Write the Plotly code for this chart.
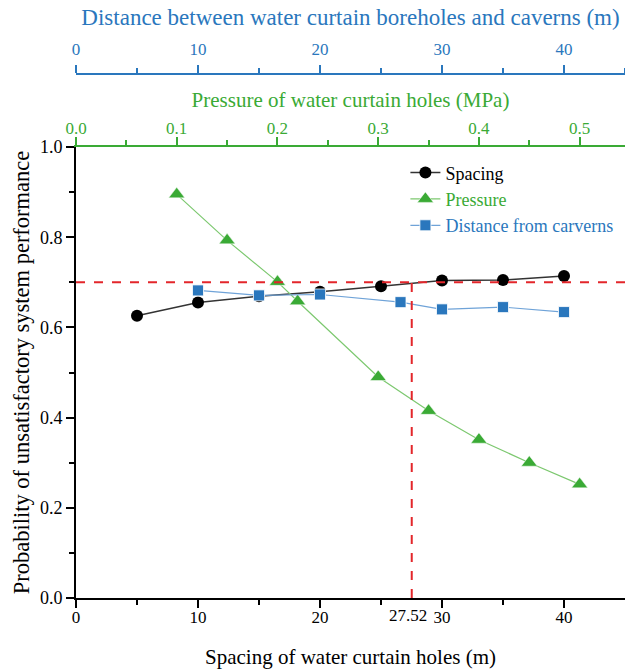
import plotly.graph_objects as go

# ---- data ----
spacing = [5, 10, 15, 20, 25, 30, 35, 40]
prob_spacing = [0.626, 0.655, 0.669, 0.679, 0.691, 0.704, 0.705, 0.714]

pressure = [0.10, 0.15, 0.20, 0.22, 0.30, 0.35, 0.40, 0.45, 0.50]
prob_pressure = [0.895, 0.793, 0.701, 0.658, 0.490, 0.415, 0.351, 0.300, 0.252]

distance = [10, 15, 20, 26.6, 30, 35, 40]
prob_distance = [0.682, 0.671, 0.673, 0.656, 0.640, 0.645, 0.634]

threshold = 0.7
critical_spacing = 27.52

BLACK = "#000000"
GREEN = "#3aaa35"
GREEN_LINE = "#7cc86f"
BLUE = "#2a77bd"
BLUE_LINE = "#6fa3d8"
RED = "#e3262b"
FONT = "Liberation Serif"

W, H = 625, 671
L, R, T, B = 76, 0, 0, 73
paper_h = H - T - B
plot_top_px = 147
blue_axis_px = 74
dom_top = (paper_h - plot_top_px) / paper_h
blue_pos = (paper_h - blue_axis_px) / paper_h

fig = go.Figure()

fig.add_trace(go.Scatter(
    x=spacing, y=prob_spacing, name="Spacing", mode="lines+markers",
    line=dict(color="#333333", width=1.5),
    marker=dict(symbol="circle", size=12, color=BLACK),
    xaxis="x", yaxis="y"))

fig.add_trace(go.Scatter(
    x=pressure, y=prob_pressure,
    name="<span style='color:%s'>Pressure</span>" % GREEN, mode="lines+markers",
    line=dict(color=GREEN_LINE, width=1.2),
    marker=dict(symbol="triangle-up", size=14, color=GREEN,
                line=dict(color="white", width=0.5)),
    xaxis="x2", yaxis="y"))

fig.add_trace(go.Scatter(
    x=distance, y=prob_distance,
    name="<span style='color:%s'>Distance from carverns</span>" % BLUE,
    mode="lines+markers",
    line=dict(color=BLUE_LINE, width=1.2),
    marker=dict(symbol="square", size=11, color=BLUE,
                line=dict(color="white", width=0.8)),
    xaxis="x3", yaxis="y"))

# reference lines
fig.add_shape(type="line", xref="x domain", yref="y", x0=0, x1=1,
              y0=threshold, y1=threshold,
              line=dict(color=RED, width=2, dash="dash"))
fig.add_shape(type="line", xref="x", yref="y", x0=critical_spacing,
              x1=critical_spacing, y0=0, y1=threshold,
              line=dict(color=RED, width=2, dash="dash"))

fig.add_annotation(x=critical_spacing, xref="x", y=0, yref="paper",
                   text="27.52", showarrow=False, yanchor="top", yshift=-6,
                   xshift=-4,
                   font=dict(family=FONT, size=17, color=BLACK))

common_axis = dict(showgrid=False, zeroline=False, showline=True,
                   linewidth=2, ticks="outside", ticklen=8, tickwidth=2,
                   automargin=False)

fig.update_layout(
    width=W, height=H,
    margin=dict(l=L, r=R, t=T, b=B, autoexpand=False),
    paper_bgcolor="white", plot_bgcolor="white",
    font=dict(family=FONT, size=17, color=BLACK),
    showlegend=True,
    legend=dict(x=0.600, y=0.742, xanchor="left", yanchor="top",
                bgcolor="rgba(0,0,0,0)",
                font=dict(family=FONT, size=18, color=BLACK),
                itemwidth=30, tracegroupgap=0),
    xaxis=dict(range=[0, 45], domain=[0, 1], tick0=0, dtick=10,
               linecolor=BLACK, tickcolor=BLACK,
               tickfont=dict(family=FONT, size=17, color=BLACK),
               ticklabelstandoff=-5,
               minor=dict(tickvals=[5, 15, 25, 35], ticklen=5, tickwidth=2,
                          tickcolor=BLACK, ticks="outside"),
               title=dict(text="Spacing of water curtain holes (m)",
                          font=dict(family=FONT, size=21, color=BLACK),
                          standoff=23),
               anchor="y", **common_axis),
    yaxis=dict(range=[0, 1.0], domain=[0, dom_top], tick0=0, dtick=0.2,
               tickformat=".1f", linecolor=BLACK, tickcolor=BLACK,
               tickfont=dict(family=FONT, size=18, color=BLACK),
               minor=dict(dtick=0.1, ticklen=5, tickwidth=2,
                          tickcolor=BLACK, ticks="outside"),
               title=dict(text="Probability of unsatisfactory system performance",
                          font=dict(family=FONT, size=22.5, color=BLACK),
                          standoff=4),
               anchor="x", **common_axis),
    xaxis2=dict(range=[0, 0.545], overlaying="x", side="top", anchor="y",
                tick0=0, dtick=0.1, tickformat=".1f",
                linecolor=GREEN, tickcolor=GREEN,
                tickfont=dict(family=FONT, size=17, color=GREEN),
                ticklabelstandoff=-4,
                minor=dict(dtick=0.05, ticklen=5, tickwidth=2,
                           tickcolor=GREEN, ticks="outside"),
                title=dict(text="Pressure of water curtain holes (MPa)",
                           font=dict(family=FONT, size=21, color=GREEN),
                           standoff=6),
                **common_axis),
    xaxis3=dict(range=[0, 45], overlaying="x", side="top", anchor="free",
                position=blue_pos, tick0=0, dtick=10,
                linecolor=BLUE, tickcolor=BLUE,
                tickfont=dict(family=FONT, size=17, color=BLUE),
                ticklabelstandoff=3,
                minor=dict(dtick=5, ticklen=5, tickwidth=2,
                           tickcolor=BLUE, ticks="outside"),
                title=dict(text="Distance between water curtain boreholes and caverns (m)",
                           font=dict(family=FONT, size=23, color=BLUE),
                           standoff=7),
                **common_axis),
)

fig.write_html("out.html")
